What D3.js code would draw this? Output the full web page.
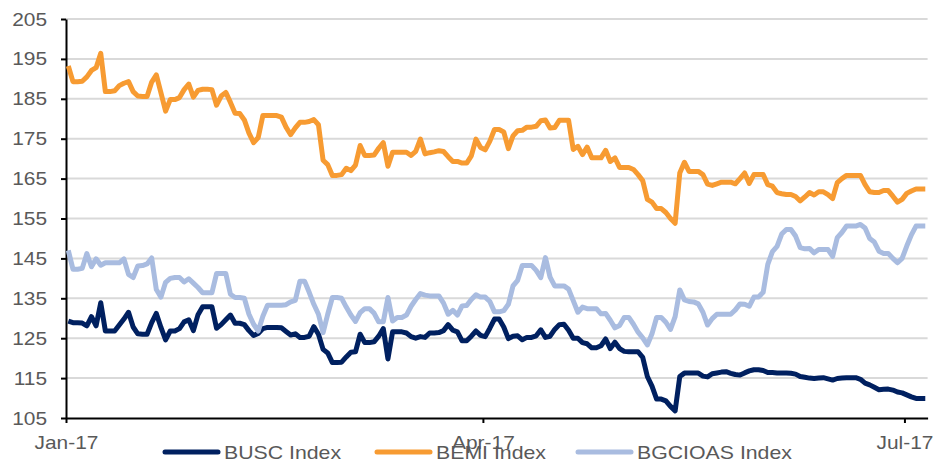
<!DOCTYPE html>
<html>
<head>
<meta charset="utf-8">
<script src="https://cdn.jsdelivr.net/npm/d3@7"></script>
<style>
  body { margin: 0; background: #fff; }
  svg { display: block; font-family: "Liberation Sans", Arial, sans-serif; }
</style>
</head>
<body>
<div id="chart"></div>
<script>
// daily observations, first one on 1 Jan 2017 (weekends carry Friday's level)
const startDate = new Date(2017, 0, 1, 12);

const busc = [
  129.3,128.9,128.9,128.8,128.1,130.4,128.1,133.9,126.8,126.8,
  126.8,128.3,129.8,131.5,127.8,126.1,126,126,128.9,131.2,
  127.7,124.6,126.8,126.8,127.4,129.1,129.6,126.9,130.9,132.9,
  132.9,132.9,127.5,128.4,129.6,130.8,128.75,128.75,128.4,126.9,
  125.7,126.2,127.4,127.7,127.7,127.7,127.6,126.7,125.8,126.1,
  125.2,125.2,125.5,127.9,126,122.2,121.3,118.9,118.9,119,
  120.3,121.5,121.6,126,123.9,123.9,124.1,125.5,127.4,119.8,
  126.6,126.6,126.6,126.3,125.4,125,125.4,125.2,126.3,126.3,
  126.4,126.9,128.4,127,126.6,124.35,124.35,125.5,126.8,125.7,
  125.4,127.5,129.8,129.8,127.8,124.9,125.5,125.6,124.6,125.2,
  125.2,125.6,127.1,125.2,125.5,127.2,128.4,128.5,127,125,
  125,123.9,123.6,122.6,122.6,123.1,124.8,122.4,124,122.4,
  121.7,121.6,121.6,121.6,120.2,115.4,113,109.75,109.75,109.3,
  107.9,106.8,115.4,116.25,116.25,116.25,116.25,115.5,115.3,116.1,
  116.3,116.5,116.6,116.2,115.9,115.75,116.3,116.8,117.1,117.1,
  116.9,116.4,116.4,116.3,116.3,116.3,116.2,116,115.4,115.2,
  115,114.9,115,115.1,114.8,114.5,114.9,115,115.1,115.1,
  115.1,114.7,113.75,113.3,112.7,112.1,112.2,112.25,112,111.5,
  111.3,110.8,110.3,109.9,109.9,109.9
];

const bemi = [
  193.2,189.3,189.3,189.4,190.5,192.1,192.8,196.4,186.8,186.8,
  187,188.3,188.9,189.3,186.8,185.7,185.6,185.6,189.2,191,
  186.5,181.9,184.8,184.8,185.3,187.3,188.7,185.4,187.1,187.4,
  187.4,187.3,183.4,185.7,186.6,184.1,181.4,181.3,179.7,176.4,
  174,175.3,180.8,180.8,180.8,180.8,180.4,177.9,176,177.7,
  179.1,179.1,179.3,179.8,178.5,169.6,168.5,165.8,165.8,166,
  167.6,167,168.4,173.3,170.8,170.8,170.9,172.6,174,168.1,
  171.6,171.6,171.6,171.6,170.8,171.8,174.9,171.2,171.5,171.7,
  172,171.8,170.5,169.3,169.3,168.9,168.9,170.7,174.9,172.8,
  172.2,174.4,177.3,177.3,176.7,172.5,175.7,177,177.1,177.9,
  177.9,178.1,179.5,179.7,177.7,177.8,179.6,179.6,179.6,172.3,
  173.1,171,172.9,170.2,170.2,170.2,172.1,169.3,170.2,167.8,
  167.8,167.8,167.3,166,164.5,159.8,159.1,157.5,157.5,156.5,
  155,153.8,166.4,169.1,166.8,166.8,166.8,166,163.6,163.3,
  163.7,164.1,164.1,164.1,163.7,165,166.4,163.8,166,166,
  166,163.5,163.1,161.5,161.2,161,161,160.5,159.4,160.4,
  161.5,160.9,161.7,161.7,161,160,164,165,165.8,165.8,
  165.8,165.8,163.5,161.7,161.5,161.5,162,162,160.6,159.1,
  159.8,161.3,161.9,162.4,162.4,162.4
];

const bgcioas = [
  147,142.3,142.3,142.5,146.2,142.9,144.9,143.3,143.9,143.9,
  143.9,143.9,144.9,141,140.2,143.1,143.2,143.6,145.1,137.2,
  135.3,139,140,140.2,140.2,139.1,139.9,138.8,137.7,136.4,
  136.4,136.4,141.2,141.2,141.2,136,135.2,135.2,135,131,
  128.5,126.8,130.5,133.25,133.25,133.25,133.25,133.4,134.1,134.5,
  139.3,139.3,136.5,133.5,131,126.4,131,135.2,135.2,135,
  132.8,130.8,129.2,131.4,132.4,132.4,131.3,129.1,129.1,135.2,
  129.3,130.2,130.2,130.8,133,134.7,136.2,135.8,135.6,135.6,
  135.6,133.8,131,132,130.8,133.1,133.2,134.7,135.9,135.3,
  135.3,134.2,131.6,131.6,131.9,133.5,138.1,139.5,143.25,143.25,
  143.25,142,140.2,145.2,140.3,138.1,138.1,138.1,137.3,134.4,
  131.5,132.8,132.4,132.4,132.4,131.1,131.2,129.5,127.6,128.2,
  130.2,130.2,128.5,126.5,125.1,123.3,126.1,130.2,130.2,129,
  127.2,130.4,137.1,134.6,134.2,134.1,133.6,131.5,128.3,129.9,
  131,131,131,131,132.1,133.6,133.5,133,135.3,135.3,
  136.5,143.5,146.7,148,151.1,152.25,152.25,150.6,147.7,147.4,
  147.5,146.4,147.25,147.25,147.2,145.5,150.2,151.5,153.1,153.1,
  153.1,153.5,152.6,150,149.1,146.8,146.25,146.25,145,143.9,
  145,148.1,150.9,153.1,153.1,153.1
];

const seriesNames = ["BUSC Index", "BEMI Index", "BGCIOAS Index"];
const seriesColors = ["#002060", "#F79B32", "#A9BCE0"];
const yTicks = [105, 115, 125, 135, 145, 155, 165, 175, 185, 195, 205];

const dates = busc.map((_, i) => d3.timeDay.offset(startDate, i));
const series = [busc, bemi, bgcioas].map((vals, k) => ({
  name: seriesNames[k],
  color: seriesColors[k],
  values: vals.map((v, i) => ({ date: dates[i], value: v }))
}));

const width = 949, height = 459;
const margin = { left: 66, top: 19, right: 21.4, bottom: 41 };

const svg = d3.select("#chart").append("svg")
  .attr("width", width)
  .attr("height", height);

svg.append("rect").attr("width", width).attr("height", height).attr("fill", "#fff");

const x = d3.scaleTime()
  .domain([new Date(2017, 0, 1), new Date(2017, 6, 6)])
  .range([margin.left, width - margin.right]);

const y = d3.scaleLinear()
  .domain([105, 205])
  .range([height - margin.bottom, margin.top]);

// horizontal gridlines
svg.append("g")
  .selectAll("line")
  .data(yTicks.filter(t => t !== 105))
  .join("line")
  .attr("x1", margin.left)
  .attr("x2", width - margin.right)
  .attr("y1", d => y(d))
  .attr("y2", d => y(d))
  .attr("stroke", "#D9D9D9")
  .attr("stroke-width", 2);

// y axis
const yAxis = svg.append("g")
  .attr("transform", `translate(${margin.left},0)`)
  .call(d3.axisLeft(y).tickValues(yTicks).tickSize(5).tickPadding(14).tickSizeOuter(0));
yAxis.select(".domain").attr("stroke", "#000").attr("stroke-width", 2);
yAxis.selectAll(".tick line").attr("stroke", "#000").attr("stroke-width", 2);
yAxis.selectAll(".tick text")
  .attr("fill", "#595959")
  .style("font-size", "19px")
  .style("font-family", "Liberation Sans, Arial, sans-serif");

// x axis
const xAxis = svg.append("g")
  .attr("transform", `translate(0,${y(105)})`)
  .call(d3.axisBottom(x)
    .tickValues([new Date(2017, 0, 1), new Date(2017, 3, 1), new Date(2017, 6, 1)])
    .tickFormat(d3.timeFormat("%b-%y"))
    .tickSize(5).tickPadding(13).tickSizeOuter(0));
xAxis.select(".domain").attr("stroke", "#000").attr("stroke-width", 2);
xAxis.selectAll(".tick line").attr("stroke", "#000").attr("stroke-width", 2);
xAxis.selectAll(".tick text")
  .attr("fill", "#595959")
  .style("font-size", "19px")
  .style("font-family", "Liberation Sans, Arial, sans-serif");

// series lines
const line = d3.line()
  .x(d => x(d.date))
  .y(d => y(d.value));

svg.append("g")
  .selectAll("path")
  .data(series)
  .join("path")
  .attr("fill", "none")
  .attr("stroke", d => d.color)
  .attr("stroke-width", 5)
  .attr("stroke-linejoin", "round")
  .attr("d", d => line(d.values));

// legend along the bottom edge
const legendX = [165, 377, 578];
const legend = svg.append("g")
  .attr("class", "legend")
  .selectAll("g")
  .data(series)
  .join("g")
  .attr("transform", (d, i) => `translate(${legendX[i]},452)`);

legend.append("line")
  .attr("x1", 0).attr("x2", 53)
  .attr("stroke", d => d.color)
  .attr("stroke-width", 5)
  .attr("stroke-linecap", "round");

legend.append("text")
  .attr("x", 59)
  .attr("y", 7)
  .attr("fill", "#595959")
  .style("font-size", "19px")
  .text(d => d.name);

// the original text is a little wider than Arial at this height
svg.selectAll("text").each(function () {
  const w = this.getComputedTextLength();
  const k = this.closest(".legend") ? 1.12 : 1.1;
  d3.select(this).attr("textLength", w * k).attr("lengthAdjust", "spacingAndGlyphs");
});
</script>
</body>
</html>
